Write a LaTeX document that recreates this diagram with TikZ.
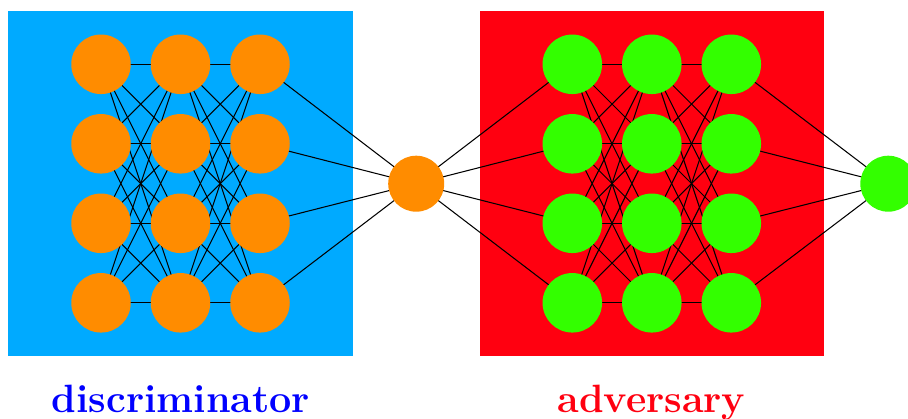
\documentclass[tikz,border=0pt]{standalone}
\usepackage{tikz}
\definecolor{discbg}{RGB}{0,170,255}
\definecolor{advbg}{RGB}{255,0,16}
\definecolor{orangenode}{RGB}{255,140,0}
\definecolor{greennode}{RGB}{51,255,0}
\definecolor{disctext}{RGB}{0,0,255}
\definecolor{advtext}{RGB}{255,0,16}
\tikzset{
  neuron/.style={circle, minimum size=59.5pt, inner sep=0pt, outer sep=0pt},
  dnode/.style={neuron, fill=orangenode},
  anode/.style={neuron, fill=greennode},
  hub/.style={circle, minimum size=56pt, inner sep=0pt, outer sep=0pt},
  wire/.style={line width=1.05pt, black},
  caption/.style={font=\fontsize{39.5}{42}\selectfont\bfseries, inner sep=0pt, anchor=base}
}
\begin{document}
\begin{tikzpicture}[x=1pt, y=-1pt]
  \useasboundingbox (0,0) rectangle (908,418);
  % background panels
  \fill[discbg] (8,11) rectangle (353,355.5);
  \fill[advbg] (479.5,11) rectangle (823.5,355.5);

  % node centres (no drawing yet)
  \foreach \i in {1,2,3} {
    \foreach \j in {1,2,3,4} {
      \coordinate (d\i\j) at ({101+79.5*(\i-1)}, {64.3+79.5*(\j-1)});
      \coordinate (a\i\j) at ({572.3+79.5*(\i-1)}, {64.3+79.5*(\j-1)});
    }
  }
  \coordinate (m) at (416.2,183.7);
  \coordinate (o) at (888.3,183.7);

  % connections
  \foreach \j in {1,2,3,4} {
    \foreach \k in {1,2,3,4} {
      \draw[wire] (d1\j) -- (d2\k);
      \draw[wire] (d2\j) -- (d3\k);
      \draw[wire] (a1\j) -- (a2\k);
      \draw[wire] (a2\j) -- (a3\k);
    }
    \draw[wire] (d3\j) -- (m);
    \draw[wire] (m) -- (a1\j);
    \draw[wire] (a3\j) -- (o);
  }

  % neurons
  \foreach \i in {1,2,3} {
    \foreach \j in {1,2,3,4} {
      \node[dnode] (nd\i\j) at (d\i\j) {};
      \node[anode] (na\i\j) at (a\i\j) {};
    }
  }
  \node[hub, fill=orangenode] (mid) at (m) {};
  \node[hub, fill=greennode] (out) at (o) {};

  % captions
  \node[caption, text=disctext] (disc) at (181,412) {discriminator};
  \node[caption, text=advtext] (adv) at (651.5,412) {adversary};
\end{tikzpicture}
\end{document}
